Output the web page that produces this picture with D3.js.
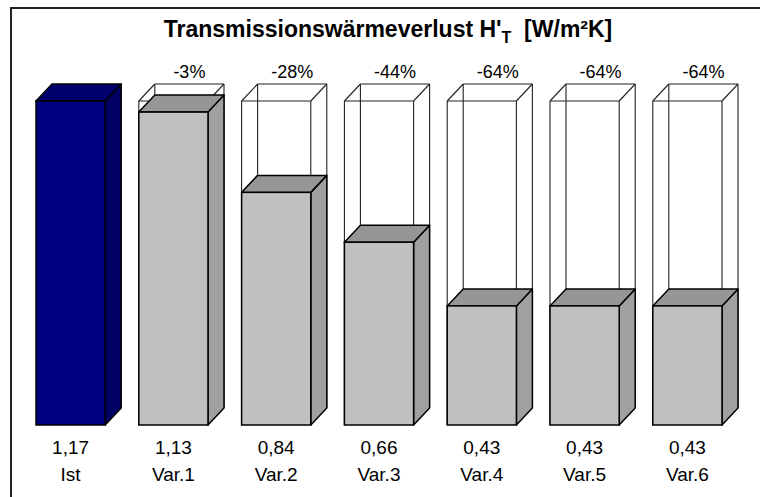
<!doctype html>
<html>
<head>
<meta charset="utf-8">
<style>
  body { margin: 0; background: #fff; }
  svg { display: block; font-family: "Liberation Sans", Arial, sans-serif; }
</style>
</head>
<body>
<svg width="760" height="497"></svg>
<script src="https://d3js.org/d3.v7.min.js"></script>
<script>
  // data
  const categories = ["Ist", "Var.1", "Var.2", "Var.3", "Var.4", "Var.5", "Var.6"];
  const values = [1.17, 1.13, 0.84, 0.66, 0.43, 0.43, 0.43];
  const changes = [null, "-3%", "-28%", "-44%", "-64%", "-64%", "-64%"];
  const valueLabels = ["1,17", "1,13", "0,84", "0,66", "0,43", "0,43", "0,43"];

  let svg = d3.select("svg");

  let dx = 16, dy = 17;  // depth of the 3d boxes

  let x = d3.scaleBand()
    .domain(categories)
    .range([36, 722])
    .paddingInner(0.327)
    .paddingOuter(0);

  let y = d3.scaleLinear()
    .domain([0, values[0]])
    .range([425, 101]);

  let w = x.bandwidth();
  let base = y(0);

  // frame (runs off the right and bottom edge)
  svg.append("rect")
    .attr("x", 11).attr("y", 8)
    .attr("width", 900).attr("height", 700)
    .attr("fill", "none")
    .attr("stroke", "#222")
    .attr("stroke-width", 2);

  // title
  let title = svg.append("text")
    .attr("x", 388).attr("y", 37)
    .attr("text-anchor", "middle")
    .attr("font-weight", "bold")
    .attr("font-size", 23);
  title.append("tspan").text("Transmissionswärmeverlust H'");
  title.append("tspan").attr("font-size", 16).attr("dy", 6).text("T");
  title.append("tspan").attr("dy", -6).attr("xml:space", "preserve").text("  [W/m²K]");

  let data = categories.map((c, i) => ({ cat: c, v: values[i], ch: changes[i], lab: valueLabels[i], i: i }));

  let g = svg.selectAll(".bar")
    .data(data)
    .enter().append("g")
    .attr("class", "bar");

  // wireframe box showing the Ist level
  let ghost = g.filter(d => d.i > 0);
  ghost.each(function(d) {
    let x0 = x(d.cat), top = y(values[0]);
    let s = d3.select(this);
    let lines = [
      [x0, top, x0, base], [x0 + w, top, x0 + w, base],
      [x0, top, x0 + w, top],
      [x0, top, x0 + dx, top - dy], [x0 + w, top, x0 + w + dx, top - dy],
      [x0 + dx, top - dy, x0 + w + dx, top - dy],
      [x0 + dx, top - dy, x0 + dx, base - dy],
      [x0 + w + dx, top - dy, x0 + w + dx, base - dy]
    ];
    s.selectAll("line.ghost").data(lines).enter().append("line")
      .attr("class", "ghost")
      .attr("x1", l => l[0]).attr("y1", l => l[1])
      .attr("x2", l => l[2]).attr("y2", l => l[3])
      .attr("stroke", "#222")
      .attr("stroke-width", 1.1);
  });

  // solid boxes
  g.each(function(d) {
    let s = d3.select(this);
    let x0 = x(d.cat), top = y(d.v);
    let ist = d.i === 0;
    let front = ist ? "#000080" : "#c0c0c0";
    let topC = ist ? "#00006c" : "#969696";
    let side = ist ? "#000062" : "#a0a0a0";
    s.append("path")
      .attr("d", `M${x0 + w},${top}L${x0 + w + dx},${top - dy}L${x0 + w + dx},${base - dy}L${x0 + w},${base}Z`)
      .attr("fill", side).attr("stroke", "#000").attr("stroke-width", 1.5).attr("stroke-linejoin", "round");
    s.append("path")
      .attr("d", `M${x0},${top}L${x0 + dx},${top - dy}L${x0 + w + dx},${top - dy}L${x0 + w},${top}Z`)
      .attr("fill", topC).attr("stroke", "#000").attr("stroke-width", 1.5).attr("stroke-linejoin", "round");
    s.append("rect")
      .attr("x", x0).attr("y", top)
      .attr("width", w).attr("height", base - top)
      .attr("fill", front).attr("stroke", "#000").attr("stroke-width", 1.5);
  });

  // change labels above the boxes
  g.filter(d => d.ch).append("text")
    .attr("x", d => x(d.cat) + w / 2 + dx)
    .attr("y", 78)
    .attr("text-anchor", "middle")
    .attr("font-size", 18)
    .text(d => d.ch);

  // value and category labels
  g.append("text")
    .attr("x", d => x(d.cat) + w / 2)
    .attr("y", 454)
    .attr("text-anchor", "middle")
    .attr("font-size", 19)
    .text(d => d.lab);

  g.append("text")
    .attr("x", d => x(d.cat) + w / 2)
    .attr("y", 481)
    .attr("text-anchor", "middle")
    .attr("font-size", 19)
    .text(d => d.cat);
</script>
</body>
</html>
